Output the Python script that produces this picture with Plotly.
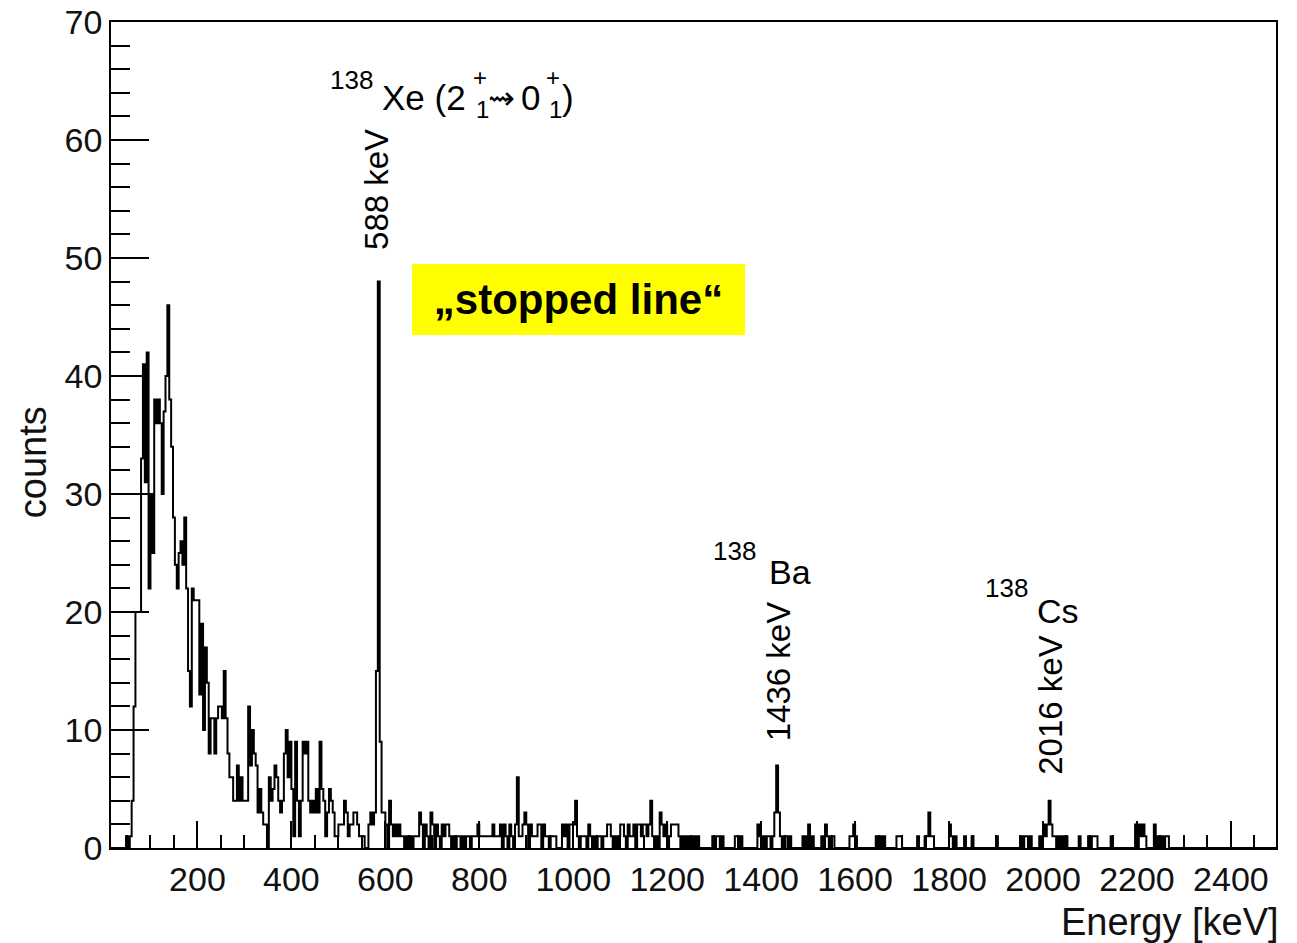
import numpy as np
import plotly.graph_objects as go

# Gamma-ray energy spectrum: 4 keV bins starting at 16 keV
BIN_LO = 16
BIN_WIDTH = 4

counts = [
    0, 0, 0, 0, 0, 0, 0, 0, 1, 0, 1, 4, 12, 20, 20, 20, 33, 41, 31, 42,          # 0-19
    22, 30, 25, 38, 36, 38, 36, 30, 37, 40, 46, 38, 34, 28, 24, 22, 25, 26, 24, 28,  # 20-39
    22, 15, 12, 22, 21, 21, 21, 13, 19, 10, 17, 14, 8, 11, 11, 8, 11, 12, 12, 11,    # 40-59
    15, 11, 8, 6, 6, 4, 4, 7, 4, 6, 4, 4, 4, 12, 7, 10, 8, 7, 3, 5,                  # 60-79
    3, 2, 2, 0, 6, 4, 5, 7, 6, 4, 3, 4, 8, 10, 6, 9, 5, 1, 9, 4,                     # 80-99
    1, 4, 9, 8, 9, 4, 3, 4, 3, 5, 3, 9, 5, 4, 1, 3, 5, 4, 3, 1,                      # 100-119
    1, 2, 2, 2, 4, 3, 1, 2, 2, 3, 3, 2, 1, 1, 1, 0, 0, 2, 3, 2,                      # 120-139
    3, 15, 48, 9, 3, 3, 2, 0, 4, 2, 1, 2, 1, 2, 1, 1, 0, 1, 0, 1,                    # 140-159
    0, 1, 1, 1, 3, 2, 0, 2, 1, 0, 3, 2, 0, 2, 1, 0, 2, 1, 2, 2,                      # 160-179
    1, 0, 1, 0, 1, 1, 0, 1, 0, 1, 1, 0, 1, 1, 1, 2, 1, 1, 1, 1,                      # 180-199
    1, 1, 1, 2, 1, 1, 1, 2, 0, 2, 1, 0, 2, 1, 0, 2, 6, 1, 1, 2,                      # 200-219
    3, 2, 0, 2, 1, 1, 1, 2, 2, 0, 2, 1, 1, 0, 1, 1, 1, 0, 0, 0,                      # 220-239
    2, 1, 2, 0, 2, 2, 2, 4, 1, 0, 1, 1, 1, 0, 2, 1, 0, 1, 0, 1,                      # 240-259
    1, 0, 1, 1, 2, 2, 1, 0, 1, 0, 1, 2, 2, 1, 0, 2, 1, 1, 2, 0,                      # 260-279
    2, 2, 1, 2, 2, 1, 2, 4, 1, 0, 1, 0, 3, 2, 1, 2, 0, 1, 2, 2,                      # 280-299
    2, 2, 1, 0, 1, 0, 1, 0, 1, 0, 1, 0, 1, 0, 0, 0, 0, 0, 0, 0,                      # 300-319
    1, 0, 1, 1, 0, 1, 0, 0, 0, 0, 0, 0, 1, 1, 0, 1, 0, 0, 0, 0,                      # 320-339
    0, 0, 0, 0, 2, 1, 0, 1, 0, 1, 1, 0, 1, 3, 7, 3, 1, 0, 1, 1,                      # 340-359
    0, 1, 0, 0, 0, 0, 0, 0, 1, 0, 1, 2, 0, 1, 0, 0, 0, 0, 1, 0,                      # 360-379
    2, 1, 0, 1, 1, 0, 0, 0, 0, 0, 0, 0, 0, 1, 1, 2, 1, 0, 0, 0,                      # 380-399
    0, 0, 0, 0, 0, 0, 0, 1, 0, 1, 0, 1, 0, 0, 0, 0, 0, 0, 1, 1,                      # 400-419
    1, 0, 0, 0, 0, 0, 0, 0, 0, 1, 0, 0, 0, 1, 1, 3, 1, 1, 0, 0,                      # 420-439
    0, 0, 0, 0, 0, 0, 2, 1, 0, 1, 0, 0, 0, 0, 1, 0, 0, 0, 1, 0,                      # 440-459
    0, 0, 0, 0, 0, 0, 0, 0, 0, 0, 0, 1, 0, 0, 0, 0, 0, 0, 0, 0,                      # 460-479
    0, 0, 0, 0, 1, 0, 1, 1, 0, 1, 0, 0, 0, 0, 1, 0, 2, 1, 2, 4,                      # 480-499
    2, 1, 1, 0, 1, 0, 1, 0, 1, 0, 0, 0, 0, 0, 0, 1, 0, 0, 0, 0,                      # 500-519
    1, 0, 1, 1, 1, 0, 0, 0, 0, 0, 0, 0, 1, 0, 0, 0, 0, 0, 0, 0,                      # 520-539
    0, 0, 0, 0, 0, 2, 0, 2, 1, 2, 1, 0, 0, 0, 0, 2, 0, 1, 0, 1,                      # 540-559
    0, 1, 1, 0, 0, 0, 0, 0, 0, 0, 0, 0, 0, 0, 0, 0, 0, 0, 0, 0,                      # 560-579
    0, 0, 0, 0, 0, 0, 0, 0, 0, 0, 0, 0, 0, 0, 0, 0, 0, 0, 0, 0,                      # 580-599
    0, 0, 0, 0, 0, 0, 0, 0, 0, 0, 0, 0, 0, 0, 0, 0, 0, 0, 0, 0,                      # 600-619
]

x_range = [16, 2496]
y_range = [0, 70]
x_tick_step = 200
y_tick_step = 10

FONT = "Liberation Sans, Arial, Helvetica, sans-serif"

edges = BIN_LO + BIN_WIDTH * np.arange(len(counts) + 1)
step_y = counts + [counts[-1]]

fig = go.Figure()
fig.add_trace(go.Scatter(
    x=edges, y=step_y, mode="lines", line_shape="hv",
    line=dict(color="black", width=2), hoverinfo="skip", showlegend=False,
))

axis_common = dict(
    showline=True, linecolor="black", linewidth=1.8, mirror=True,
    ticks="inside", tickcolor="black", tickwidth=1.6,
    showgrid=False, zeroline=False, automargin=False,
    tickfont=dict(family=FONT, size=34, color="#111"),
)
fig.update_xaxes(
    range=x_range, tick0=0, dtick=x_tick_step, ticklen=27,
    minor=dict(dtick=50, ticklen=13, ticks="inside", tickcolor="black", tickwidth=1.6),
    ticklabelstandoff=0,
    **axis_common,
)
fig.update_yaxes(
    range=y_range, tick0=0, dtick=y_tick_step, ticklen=38,
    minor=dict(dtick=2, ticklen=19, ticks="inside", tickcolor="black", tickwidth=1.6),
    ticklabelstandoff=0,
    **axis_common,
)


def label(text, x, y, size, **kw):
    fig.add_annotation(
        x=x, y=y, text=text, showarrow=False,
        font=dict(family=FONT, size=size, color="black"), **kw,
    )


# 138Xe (2+1 -> 0+1) transition label
label("138", 527, 65.1, 26)
label("Xe (2", 588, 63.6, 35, xanchor="left")
label("+", 801, 65.3, 24)
label("1", 806, 62.6, 24)
label("⇝", 848, 63.6, 32)
label("0", 910, 63.6, 35)
label("+", 957, 65.3, 24)
label("1", 963, 62.6, 24)
label(")", 989, 63.6, 35)
label("588 keV", 581, 55.8, 33, textangle=-90)

# 138Ba line
label("138", 1344, 25.2, 26)
label("Ba", 1412, 23.4, 34, xanchor="left")
label("1436 keV", 1436, 14.9, 33, textangle=-90)

# 138Cs line
label("138", 1922, 22.0, 26)
label("Cs", 1983, 20.1, 34, xanchor="left")
label("2016 keV", 2016, 12.1, 33, textangle=-90)

# highlighted box
fig.add_annotation(
    x=1011, y=46.5, text="<b>„stopped line“</b>", showarrow=False,
    font=dict(family=FONT, size=42, color="black"),
    bgcolor="#FFFF00", width=333, height=71, borderpad=0, borderwidth=0,
)

# axis titles
fig.add_annotation(
    xref="paper", yref="paper", x=1.0043, y=-0.0896, text="Energy [keV]",
    showarrow=False, xanchor="right", yanchor="middle",
    font=dict(family=FONT, size=38, color="#111"),
)
fig.add_annotation(
    xref="paper", yref="paper", x=-0.067, y=0.467, text="counts",
    showarrow=False, textangle=-90, xanchor="center", yanchor="middle",
    font=dict(family=FONT, size=38, color="#111"),
)

fig.update_layout(
    width=1297, height=943,
    margin=dict(l=111, r=21, t=22, b=95),
    paper_bgcolor="white", plot_bgcolor="white",
)

fig.write_html("out.html")
